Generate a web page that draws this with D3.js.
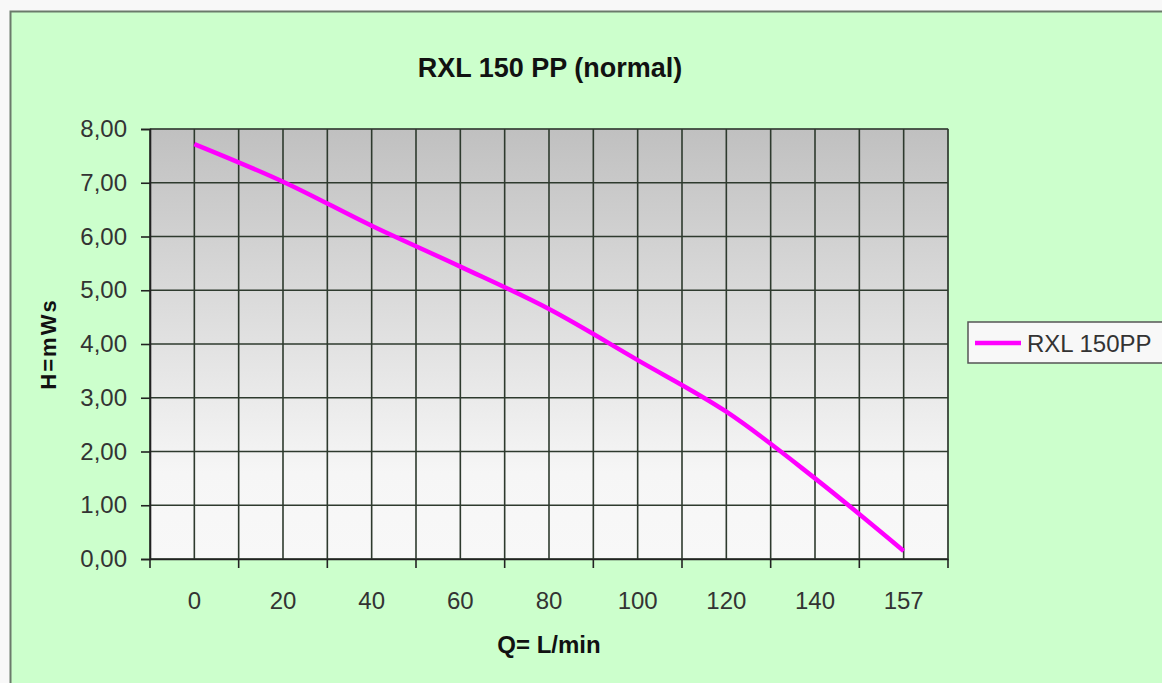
<!DOCTYPE html>
<html>
<head>
<meta charset="utf-8">
<script src="https://cdn.jsdelivr.net/npm/d3@7"></script>
<style>
  body { margin: 0; background: #f8f8f8; }
  svg { display: block; }
</style>
</head>
<body>
<div id="chart"></div>
<script>
// categories on the Q axis (L/min) and head values (mWs)
const categories = ["0", "20", "40", "60", "80", "100", "120", "140", "157"];
const headValues = [7.72, 7.02, 6.2, 5.44, 4.65, 3.7, 2.74, 1.5, 0.15];
const yTicks = [0, 1, 2, 3, 4, 5, 6, 7, 8];
const seriesName = "RXL 150PP";

const width = 1162;
const height = 683;
const margin = { top: 129, left: 150, right: 214, bottom: 124 };
const iwidth = width - margin.left - margin.right;
const iheight = height - margin.top - margin.bottom;

const fmt = d3.formatLocale({ decimal: ",", thousands: ".", grouping: [3], currency: ["", ""] }).format(".2f");
const font = "'Liberation Sans', Arial, sans-serif";

const svg = d3.select("#chart").append("svg")
  .attr("width", width)
  .attr("height", height);

// chart area
svg.append("rect")
  .attr("x", 10.5).attr("y", 11.5)
  .attr("width", width).attr("height", height)
  .attr("fill", "#ccffcc")
  .attr("stroke", "#6b7a6b")
  .attr("stroke-width", 2);

const defs = svg.append("defs");
const grad = defs.append("linearGradient")
  .attr("id", "plotbg")
  .attr("x1", 0).attr("y1", 0).attr("x2", 0).attr("y2", 1);
grad.append("stop").attr("offset", "0%").attr("stop-color", "#c0c0c0");
grad.append("stop").attr("offset", "80%").attr("stop-color", "#f6f6f6");
grad.append("stop").attr("offset", "100%").attr("stop-color", "#f8f8f8");

const g = svg.append("g").attr("transform", `translate(${margin.left},${margin.top})`);

const x = d3.scaleBand()
  .domain(categories)
  .range([0, iwidth])
  .padding(0);

const y = d3.scaleLinear()
  .domain([0, 8])
  .range([iheight, 0]);

g.append("rect")
  .attr("width", iwidth).attr("height", iheight)
  .attr("fill", "url(#plotbg)")
  .attr("stroke", "#808080");

// vertical gridlines: band edges and band centres
const vlines = [];
categories.forEach(c => {
  vlines.push(x(c));
  vlines.push(x(c) + x.bandwidth() / 2);
});
vlines.push(iwidth);

g.append("g").selectAll("line.v")
  .data(vlines)
  .join("line")
  .attr("x1", d => d).attr("x2", d => d)
  .attr("y1", 0).attr("y2", iheight)
  .attr("stroke", "#2e3a2e")
  .attr("stroke-width", 1.6);

g.append("g").selectAll("line.h")
  .data(yTicks)
  .join("line")
  .attr("x1", 0).attr("x2", iwidth)
  .attr("y1", d => y(d)).attr("y2", d => y(d))
  .attr("stroke", "#2e3a2e")
  .attr("stroke-width", 1.6);

// y axis
const yAxis = g.append("g")
  .call(d3.axisLeft(y).tickValues(yTicks).tickFormat(fmt).tickSize(9).tickPadding(14));
yAxis.select(".domain").attr("stroke", "#222").attr("stroke-width", 1.6);
yAxis.selectAll(".tick line").attr("stroke", "#222").attr("stroke-width", 1.6);
yAxis.selectAll("text")
  .attr("fill", "#333")
  .style("font-family", font)
  .style("font-size", "24px");

// x axis: ticks at band edges, labels at centres
const xAxis = g.append("g")
  .attr("transform", `translate(0,${iheight})`)
  .call(d3.axisBottom(x).tickSize(0).tickPadding(33));
xAxis.select(".domain").attr("stroke", "#222").attr("stroke-width", 1.6);
xAxis.selectAll("text")
  .attr("fill", "#333")
  .style("font-family", font)
  .style("font-size", "24px");
xAxis.selectAll("line.edge")
  .data(categories.map(c => x(c)).concat([iwidth]))
  .join("line")
  .attr("class", "edge")
  .attr("x1", d => d).attr("x2", d => d)
  .attr("y1", 0).attr("y2", 9)
  .attr("stroke", "#222")
  .attr("stroke-width", 1.6);

// curve
const line = d3.line()
  .x((d, i) => x(categories[i]) + x.bandwidth() / 2)
  .y(d => y(d))
  .curve(d3.curveCatmullRom.alpha(0.5));

g.append("path")
  .datum(headValues)
  .attr("fill", "none")
  .attr("stroke", "#ff00ff")
  .attr("stroke-width", 4.5)
  .attr("d", line);

// titles
svg.append("text")
  .attr("x", 550)
  .attr("y", 77)
  .attr("text-anchor", "middle")
  .style("font-family", font)
  .style("font-size", "27px")
  .style("font-weight", "bold")
  .attr("fill", "#111")
  .text("RXL 150 PP (normal)");

svg.append("text")
  .attr("x", 549)
  .attr("y", 653)
  .attr("text-anchor", "middle")
  .style("font-family", font)
  .style("font-size", "24px")
  .style("font-weight", "bold")
  .attr("fill", "#111")
  .text("Q= L/min");

svg.append("text")
  .attr("transform", `translate(56,${margin.top + iheight / 2}) rotate(-90)`)
  .attr("text-anchor", "middle")
  .style("font-family", font)
  .style("font-size", "22px")
  .style("font-weight", "bold")
  .style("letter-spacing", "2px")
  .attr("fill", "#111")
  .text("H=mWs");

// legend
const lg = svg.append("g").attr("transform", "translate(968,322)");
lg.append("rect")
  .attr("width", 220).attr("height", 41)
  .attr("fill", "#f8f8f8")
  .attr("stroke", "#555")
  .attr("stroke-width", 1.5);
lg.append("line")
  .attr("x1", 7).attr("x2", 53)
  .attr("y1", 21).attr("y2", 21)
  .attr("stroke", "#ff00ff")
  .attr("stroke-width", 4.5);
lg.append("text")
  .attr("x", 59).attr("y", 30)
  .style("font-family", font)
  .style("font-size", "24px")
  .attr("fill", "#333")
  .text(seriesName);
</script>
</body>
</html>
